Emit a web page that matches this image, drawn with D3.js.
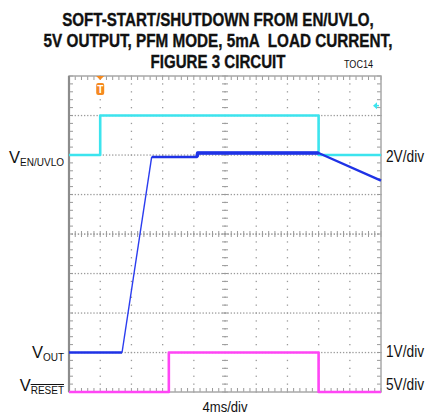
<!DOCTYPE html>
<html><head><meta charset="utf-8">
<script src="https://cdn.jsdelivr.net/npm/d3@7"></script>
<style>body{margin:0;background:#fff}svg{display:block}text{white-space:pre}</style></head>
<body><svg id="c" width="431" height="414"></svg>
<script>
// ---- data ----
const titleLines = ["SOFT-START/SHUTDOWN FROM EN/UVLO,", "5V OUTPUT, PFM MODE, 5mA  LOAD CURRENT,", "FIGURE 3 CIRCUIT"];
const figureId = "TOC14";
const timeLabel = "4ms/div";
const channelNames = ["EN/UVLO", "OUT", "RESET"];
const voltsPerDiv = [2, 1, 5];
const scaleLabels = ["2V/div", "1V/div", "5V/div"];
const groundDiv = [2, -3, -4];          // channel ground position (divisions from centre)
const enTime = [0, 4, 4, 32, 32, 40];   // ms
const enVolts = [0, 0, 2, 2, 0, 0];
const outTime = [0, 6.8, 10.6, 16.4, 16.5, 32, 40];
const outVolts = [0, 0, 4.95, 4.95, 5.05, 5.05, 4.35];
const resetTime = [0, 12.8, 12.8, 32, 32, 40];
const resetVolts = [0, 0, 5, 5, 0, 0];
const triggerTime = 4;
const enMarkerDiv = 2.5;

// ---- layout ----
const L = 69, T = 76, W = 312, H = 316;
const svg = d3.select("#c");
const x = d3.scaleLinear().domain([0, 40]).range([L, L + W]);
const y = d3.scaleLinear().domain([-4, 4]).range([T + H, T]);
const divX = d3.range(0, 40.001, 4), divY = d3.range(-4, 4.001, 1);
const minX = d3.range(0, 40.001, 0.8), minY = d3.range(-4, 4.001, 0.2);
const gridCol = "#9a9a9a";

const g = svg.append("g");
// dotted major grid
divX.filter(v => v > 0 && v < 40 && v !== 20).forEach(t => {
  g.selectAll(null).data(minY).enter().append("rect")
    .attr("x", x(t) - 0.6).attr("y", d => y(d) - 0.6).attr("width", 1.3).attr("height", 1.3).attr("fill", gridCol);
});
divY.filter(v => v > -4 && v < 4 && v !== 0).forEach(dv => {
  g.selectAll(null).data(minX.concat(d3.range(0.4, 40, 0.8))).enter().append("rect")
    .attr("x", d => x(d) - 0.6).attr("y", y(dv) - 0.6).attr("width", 1.3).attr("height", 1.3).attr("fill", gridCol);
});
// centre lines with ticks
g.selectAll(null).data(minY).enter().append("line")
  .attr("x1", x(20) - 3).attr("x2", x(20) + 3).attr("y1", d => y(d)).attr("y2", d => y(d))
  .attr("stroke", gridCol).attr("stroke-width", 1);
g.selectAll(null).data(minY).enter().append("rect")
  .attr("x", x(20) - 0.6).attr("y", d => y(d) - 0.6).attr("width", 1.3).attr("height", 1.3).attr("fill", gridCol);
g.selectAll(null).data(minX).enter().append("line")
  .attr("x1", d => x(d)).attr("x2", d => x(d)).attr("y1", y(0) - 3).attr("y2", y(0) + 3)
  .attr("stroke", gridCol).attr("stroke-width", 1);
g.selectAll(null).data(d3.range(0, 40, 0.4)).enter().append("rect")
  .attr("x", d => x(d) - 0.6).attr("y", y(0) - 0.7).attr("width", 1.4).attr("height", 1.6).attr("fill", gridCol);
// border ticks
g.selectAll(null).data(minX).enter().append("line")
  .attr("x1", d => x(d)).attr("x2", d => x(d)).attr("y1", T).attr("y2", T + 4).attr("stroke", gridCol);
g.selectAll(null).data(minX).enter().append("line")
  .attr("x1", d => x(d)).attr("x2", d => x(d)).attr("y1", T + H).attr("y2", T + H - 4).attr("stroke", gridCol);
g.selectAll(null).data(minY).enter().append("line")
  .attr("x1", L).attr("x2", L + 4).attr("y1", d => y(d)).attr("y2", d => y(d)).attr("stroke", gridCol);
g.selectAll(null).data(minY).enter().append("line")
  .attr("x1", L + W).attr("x2", L + W - 4).attr("y1", d => y(d)).attr("y2", d => y(d)).attr("stroke", gridCol);
g.append("rect").attr("x", L).attr("y", T).attr("width", W).attr("height", H)
  .attr("fill", "none").attr("stroke", "#a8a8a8").attr("stroke-width", 1.5);
g.append("line").attr("x1", L).attr("x2", L).attr("y1", T).attr("y2", T + H)
  .attr("stroke", "#8c8c8c").attr("stroke-width", 2.2);

// traces
const toDiv = (ch, v) => groundDiv[ch] + v / voltsPerDiv[ch];
function trace(times, volts, ch, color, w) {
  const pts = times.map((t, i) => [x(t), y(toDiv(ch, volts[i]))]);
  svg.append("path").attr("d", d3.line()(pts)).attr("fill", "none")
    .attr("stroke", color).attr("stroke-width", w).attr("stroke-linejoin", "round");
}
trace(enTime, enVolts, 0, "#3ce4ee", 2.6);
trace(resetTime, resetVolts, 2, "#ff45f5", 2.6);
trace(outTime.slice(0, 2), outVolts.slice(0, 2), 1, "#1e32e6", 2.6);
trace(outTime.slice(1, 3), outVolts.slice(1, 3), 1, "#2a3cf0", 1.4);
trace(outTime.slice(2), outVolts.slice(2), 1, "#1e32e6", 2.4);
trace(outTime.slice(3, 6), outVolts.slice(3, 6), 1, "#1e32e6", 3.6);

// trigger marker
const tx = x(triggerTime);
svg.append("path").attr("d", `M${tx - 4},${T} L${tx + 4},${T} L${tx},${T + 4} Z`).attr("fill", "#f58a1f");
svg.append("rect").attr("x", tx - 4).attr("y", T + 7).attr("width", 8).attr("height", 12).attr("rx", 2).attr("fill", "#f58a1f");
svg.append("text").attr("x", tx).attr("y", T + 17).attr("text-anchor", "middle")
  .attr("font-family", "Liberation Sans, Arial").attr("font-size", 10).attr("font-weight", "bold").attr("fill", "#fff").text("T");
// EN level marker on right
const my = y(groundDiv[0] + enMarkerDiv / voltsPerDiv[0]);
svg.append("path").attr("d", `M${L + W - 8},${my} L${L + W - 4},${my - 3.5} L${L + W - 4},${my + 3.5} Z`).attr("fill", "#3ce4ee");
svg.append("line").attr("x1", L + W - 5).attr("x2", L + W - 2).attr("y1", my).attr("y2", my).attr("stroke", "#3ce4ee").attr("stroke-width", 1.5);

// title: condensed horizontally to the reference width
const font = "'Liberation Sans Narrow', 'Arial Narrow', 'Liberation Sans', Arial, sans-serif";
const tl = [{b: 26, w: 312}, {b: 47, w: 349}, {b: 68, w: 135}];
titleLines.forEach((s, i) => {
  const gg = svg.append("g");
  const t = gg.append("text").attr("x", 0).attr("y", 0).attr("text-anchor", "middle")
    .attr("font-family", font).attr("font-weight", "bold").attr("font-size", 18.5)
    .attr("stroke", "#111").attr("stroke-width", 0.35).attr("fill", "#111").text(s);
  const natural = t.node().getComputedTextLength() || tl[i].w;
  gg.attr("transform", `translate(218,${tl[i].b}) scale(${tl[i].w / natural},1)`);
});
svg.append("text").attr("x", 344).attr("y", 68).attr("font-family", font).attr("font-size", 11)
  .attr("textLength", 29).attr("lengthAdjust", "spacingAndGlyphs").attr("fill", "#111").text(figureId);

// channel labels
const labelY = [163, 358, 391];
channelNames.forEach((n, i) => {
  const t = svg.append("text").attr("x", 64).attr("y", labelY[i]).attr("text-anchor", "end")
    .attr("font-family", font).attr("font-size", 16.5).attr("fill", "#111");
  t.append("tspan").text("V");
  const s = t.append("tspan").attr("dy", 3).attr("font-size", 10).text(n);
  if (n === "RESET") s.attr("text-decoration", "overline");
});
scaleLabels.forEach((s, i) => {
  svg.append("text").attr("x", 386).attr("y", labelY[i] - 1).attr("font-family", font).attr("font-size", 16)
    .attr("textLength", 38).attr("lengthAdjust", "spacingAndGlyphs").attr("fill", "#111").text(s);
});
svg.append("text").attr("x", 225).attr("y", 412).attr("text-anchor", "middle").attr("font-family", font)
  .attr("font-size", 15).attr("textLength", 45).attr("lengthAdjust", "spacingAndGlyphs").attr("fill", "#111").text(timeLabel);
</script></body></html>
